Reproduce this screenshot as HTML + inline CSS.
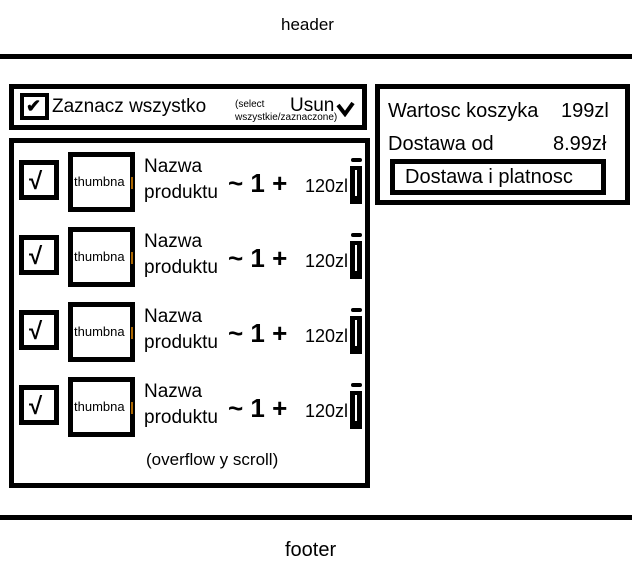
<!DOCTYPE html>
<html><head><meta charset="utf-8"><style>
body{margin:0;width:632px;height:585px;position:relative;background:#fff;font-family:"Liberation Sans",sans-serif;overflow:hidden;color:#000}
.a{position:absolute}
.box{position:absolute;border:5px solid #000;box-sizing:border-box}
.t{position:absolute;white-space:nowrap;line-height:1}
</style></head><body>
<div class="t" style="left:281px;top:16px;font-size:17px">header</div>
<div class="a" style="left:0;top:54px;width:632px;height:5px;background:#000"></div>

<div class="box" style="left:9px;top:84px;width:358px;height:46px"></div>
<div class="box" style="left:20px;top:93px;width:29px;height:27px;border-width:4px"></div>
<div class="t" style="left:26px;top:97px;font-size:18px;font-weight:bold">✔</div>
<div class="t" style="left:52px;top:97px;font-size:19px">Zaznacz wszystko</div>
<div class="t" style="left:235px;top:100px;font-size:10px">(select</div>
<div class="t" style="left:235px;top:113px;font-size:10px">wszystkie/zaznaczone)</div>
<div class="t" style="left:290px;top:96px;font-size:19px">Usun</div>
<svg class="a" style="left:336px;top:101px" width="20" height="16"><path d="M2 4 L9 13 L17 2" fill="none" stroke="#000" stroke-width="4"/></svg>

<div class="box" style="left:9px;top:138px;width:361px;height:350px"></div>

<div id="items"></div>
<script>
var h='';[152,227,302,377].forEach(function(y){
h+='<div class="box" style="left:19px;top:'+(y+8)+'px;width:40px;height:40px"></div>';
h+='<div class="t" style="left:29px;top:'+(y+18)+'px;font-size:24px;font-weight:bold">√</div>';
h+='<div class="box" style="left:68px;top:'+y+'px;width:67px;height:60px"></div>';
h+='<div class="t" style="left:74px;top:'+(y+23)+'px;font-size:13px">thumbna</div>';
h+='<div class="a" style="left:131px;top:'+(y+25)+'px;width:2px;height:12px;background:#a60"></div>';
h+='<div class="t" style="left:144px;top:'+(y+5)+'px;font-size:19px">Nazwa</div>';
h+='<div class="t" style="left:144px;top:'+(y+31)+'px;font-size:19px">produktu</div>';
h+='<div class="t" style="left:228px;top:'+(y+18)+'px;font-size:26px;font-weight:bold">~ 1 +</div>';
h+='<div class="t" style="left:305px;top:'+(y+25)+'px;font-size:18px">120zl</div>';
h+='<div class="a" style="left:351px;top:'+(y+6)+'px;width:11px;height:4px;background:#000;border-radius:2px"></div>';
h+='<div class="a" style="left:350px;top:'+(y+14)+'px;width:4px;height:30px;border:4px solid #000;background:#000"></div>';
h+='<div class="a" style="left:355px;top:'+(y+18)+'px;width:2px;height:26px;background:#fff"></div>';
});document.getElementById('items').innerHTML=h;
</script>
<div class="t" style="left:146px;top:451px;font-size:17px">(overflow y scroll)</div>

<div class="box" style="left:375px;top:84px;width:255px;height:121px"></div>
<div class="t" style="left:388px;top:101px;font-size:20px">Wartosc koszyka</div>
<div class="t" style="left:561px;top:101px;font-size:20px">199zl</div>
<div class="t" style="left:388px;top:134px;font-size:20px">Dostawa od</div>
<div class="t" style="left:553px;top:134px;font-size:20px">8.99zł</div>
<div class="box" style="left:390px;top:159px;width:216px;height:36px"></div>
<div class="t" style="left:405px;top:167px;font-size:20px">Dostawa i platnosc</div>

<div class="a" style="left:0;top:515px;width:632px;height:5px;background:#000"></div>
<div class="t" style="left:285px;top:540px;font-size:20px">footer</div>
</body></html>
